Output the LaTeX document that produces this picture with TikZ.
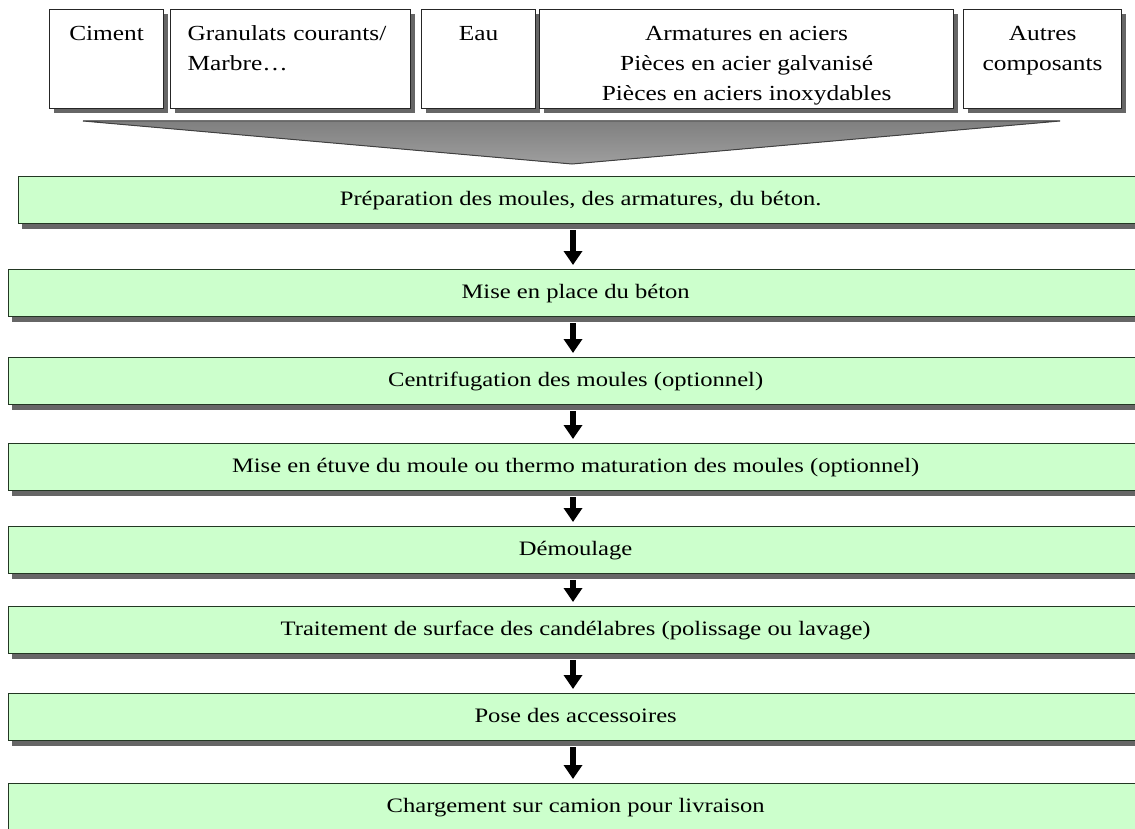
\documentclass[tikz,border=0pt]{standalone}
\usepackage{fontspec}
\setmainfont{Liberation Serif}
\newfontfamily\policehaut[FakeStretch=1.18]{Liberation Serif}
\newfontfamily\policeetape[FakeStretch=1.2]{Liberation Serif}
\usetikzlibrary{arrows.meta,shadows}
\definecolor{vertclair}{RGB}{204,255,204}
\definecolor{bordvert}{RGB}{35,55,35}

\begin{document}
\begin{tikzpicture}[x=1pt, y=-1pt,
    entree/.style={draw=black!85, line width=1.2pt, fill=white, inner ysep=0pt,
        text height=31pt, text depth=68pt, align=center, anchor=north west,
        font=\policehaut\fontsize{21.5}{30}\selectfont,
        drop shadow={shadow xshift=4pt, shadow yshift=-4pt, fill=black!75, opacity=0.8}},
    deuxlignes/.style={text height=61pt, text depth=38pt},
    troislignes/.style={text height=91pt, text depth=8pt},
    etape/.style={draw=bordvert, line width=1.3pt, fill=vertclair, inner ysep=0pt,
        minimum height=47pt, text height=14pt, text depth=4pt, anchor=north west,
        font=\policeetape\fontsize{20.5}{24}\selectfont,
        drop shadow={shadow xshift=3pt, shadow yshift=-5pt, fill=black!75, opacity=0.8}},
    fleche/.style={line width=6pt, -{Triangle[width=18pt,length=14pt]},
        shorten <=6pt, shorten >=4pt}]
    \useasboundingbox (0,0) rectangle (1135,829);

    % composants
    \node[entree, minimum width=114pt] (ciment) at (49,9) {Ciment};
    \node[entree, text width=206pt, inner xsep=17pt, align=left] (granulats) at (170,9)
        {Granulats courants/\\Marbre…};
    \node[entree, minimum width=114pt] (eau) at (421,9) {Eau};
    \node[entree, troislignes, minimum width=414pt] (aciers) at (539,9)
        {Armatures en aciers\\Pièces en acier galvanisé\\Pièces en aciers inoxydables};
    \node[entree, deuxlignes, minimum width=158pt] (autres) at (963,9) {Autres\\composants};

    % entonnoir
    \filldraw[draw=black!75, line width=1pt, top color=black!50, bottom color=black!38]
        (83,121) -- (1060,121) -- (572,164) -- cycle;

    % etapes de fabrication
    \coordinate (axe) at (573,0);
    \foreach \n/\x/\y/\t in {
        1/18/176/{Préparation des moules, des armatures, du béton.},
        2/8/269/{Mise en place du béton},
        3/8/357/{Centrifugation des moules (optionnel)},
        4/8/443/{Mise en étuve du moule ou thermo maturation des moules (optionnel)},
        5/8/526/{Démoulage},
        6/8/606/{Traitement de surface des candélabres (polissage ou lavage)},
        7/8/693/{Pose des accessoires},
        8/8/783/{Chargement sur camion pour livraison}}
        \node[etape, minimum width={1142pt-\x pt}] (e\n) at (\x,\y) {\t};

    % fleches
    \foreach \a/\b in {1/2,2/3,3/4,4/5,5/6,6/7,7/8}
        \draw[fleche] (e\a.south -| axe) -- (e\b.north -| axe);

\end{tikzpicture}
\end{document}
